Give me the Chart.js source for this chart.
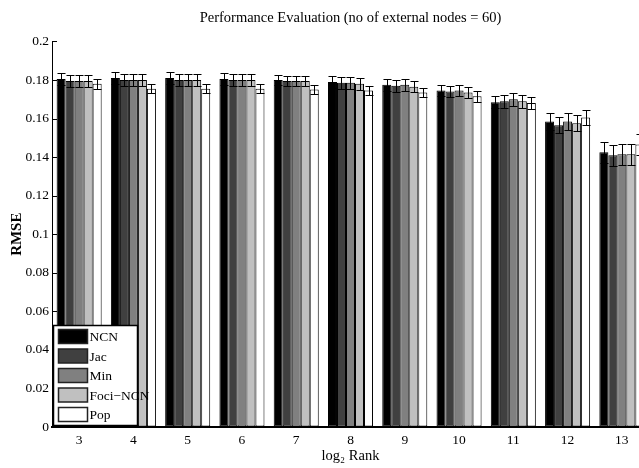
<!DOCTYPE html>
<html>
<head>
<meta charset="utf-8">
<script src="https://cdn.jsdelivr.net/npm/chart.js@4.4.0/dist/chart.umd.min.js"></script>
<style>
html, body { margin: 0; padding: 0; background: #fff; overflow: hidden; }
#wrap { position: relative; width: 652px; height: 468px; }
</style>
</head>
<body>
<div id="wrap"><canvas id="chart"></canvas></div>
<script>
// log2 rank categories
var ranks = ['3', '4', '5', '6', '7', '8', '9', '10', '11', '12', '13'];
var seriesNames = ['NCN', 'Jac', 'Min', 'Foci\u2212NCN', 'Pop'];
var seriesColors = ['#000000', '#404040', '#808080', '#c0c0c0', '#ffffff'];

// RMSE per series
var ncn  = [0.1805, 0.1810, 0.1810, 0.1805, 0.1800, 0.1790, 0.1775, 0.1745, 0.1685, 0.1585, 0.1425];
var jac  = [0.1795, 0.1800, 0.1800, 0.1800, 0.1795, 0.1785, 0.1770, 0.1740, 0.1690, 0.1565, 0.1410];
var min  = [0.1795, 0.1800, 0.1800, 0.1800, 0.1795, 0.1785, 0.1775, 0.1745, 0.1700, 0.1585, 0.1415];
var foci = [0.1795, 0.1800, 0.1800, 0.1800, 0.1795, 0.1780, 0.1765, 0.1735, 0.1690, 0.1575, 0.1415];
var pop  = [0.1780, 0.1755, 0.1755, 0.1755, 0.1750, 0.1745, 0.1735, 0.1715, 0.1680, 0.1605, 0.1465];

// error bar half lengths
var ncnErr  = [0.0030, 0.0030, 0.0030, 0.0030, 0.0028, 0.0030, 0.0030, 0.0030, 0.0033, 0.0042, 0.0055];
var jacErr  = [0.0030, 0.0030, 0.0030, 0.0030, 0.0028, 0.0030, 0.0030, 0.0030, 0.0033, 0.0042, 0.0055];
var minErr  = [0.0030, 0.0030, 0.0030, 0.0030, 0.0028, 0.0030, 0.0030, 0.0030, 0.0033, 0.0042, 0.0055];
var fociErr = [0.0030, 0.0030, 0.0030, 0.0030, 0.0028, 0.0030, 0.0030, 0.0030, 0.0033, 0.0042, 0.0055];
var popErr  = [0.0025, 0.0025, 0.0025, 0.0025, 0.0025, 0.0025, 0.0025, 0.0028, 0.0030, 0.0040, 0.0055];

var yTicks = [0, 0.02, 0.04, 0.06, 0.08, 0.1, 0.12, 0.14, 0.16, 0.18, 0.2];

var values = [ncn, jac, min, foci, pop];
var errors = [ncnErr, jacErr, minErr, fociErr, popErr];

Chart.defaults.font.family = '"Liberation Serif", "Times New Roman", serif';
Chart.defaults.font.size = 13;
Chart.defaults.color = '#000';

var datasets = [];
for (var i = 0; i < seriesNames.length; i++) {
	datasets.push({
		label: seriesNames[i],
		data: values[i],
		errors: errors[i],
		backgroundColor: seriesColors[i],
		borderColor: '#000',
		borderWidth: 1,
		borderSkipped: false,
		categoryPercentage: 0.83,
		barPercentage: 1.0
	});
}

// error bars, inward y ticks and the boxed legend in the lower left
var extras = {
	id: 'extras',
	afterDatasetsDraw: function(chart) {
		var ctx = chart.ctx;
		var y = chart.scales.y;
		var area = chart.chartArea;
		ctx.save();
		ctx.strokeStyle = '#000';
		ctx.lineWidth = 1;

		chart.data.datasets.forEach(function(ds, i) {
			var meta = chart.getDatasetMeta(i);
			meta.data.forEach(function(bar, j) {
				var v = ds.data[j], e = ds.errors[j];
				var top = Math.round(y.getPixelForValue(v + e)) + 0.5;
				var bot = Math.round(y.getPixelForValue(v - e)) + 0.5;
				var cx = Math.round(bar.x) + 0.5;
				var half = bar.width / 2 - 0.5;
				ctx.beginPath();
				ctx.moveTo(cx, top); ctx.lineTo(cx, bot);
				ctx.moveTo(cx - half, top); ctx.lineTo(cx + half, top);
				ctx.moveTo(cx - half, bot); ctx.lineTo(cx + half, bot);
				ctx.stroke();
			});
		});

		// MATLAB style ticks pointing into the axes
		yTicks.forEach(function(t) {
			var py = Math.round(y.getPixelForValue(t)) + 0.5;
			ctx.beginPath();
			ctx.moveTo(area.left, py);
			ctx.lineTo(area.left + 5, py);
			ctx.stroke();
		});

		// legend box
		var bx = area.left + 1.5, by = area.bottom - 101.5, bw = 84, bh = 100;
		ctx.fillStyle = '#fff';
		ctx.fillRect(bx, by, bw, bh);
		ctx.lineWidth = 1.5;
		ctx.strokeRect(bx, by, bw, bh);
		ctx.font = '13.5px "Liberation Serif", "Times New Roman", serif';
		ctx.textBaseline = 'middle';
		ctx.textAlign = 'left';
		chart.data.datasets.forEach(function(ds, i) {
			var cy = by + 11 + i * 19.5;
			ctx.fillStyle = ds.backgroundColor;
			ctx.fillRect(bx + 5, cy - 7, 29, 14);
			ctx.lineWidth = 1.5;
			ctx.strokeStyle = '#222';
			ctx.strokeRect(bx + 5, cy - 7, 29, 14);
			ctx.fillStyle = '#000';
			ctx.fillText(ds.label, bx + 36, cy + 1);
		});
		ctx.restore();
	}
};

new Chart(document.getElementById('chart'), {
	type: 'bar',
	data: { labels: ranks, datasets: datasets },
	plugins: [extras],
	options: {
		responsive: true,
		maintainAspectRatio: false,
		animation: false,
		layout: { padding: { left: 0, right: 3, top: 0, bottom: 0 } },
		plugins: {
			legend: { display: false },
			tooltip: { enabled: false },
			title: {
				display: true,
				fullSize: false,
				text: 'Performance Evaluation (no of external nodes = 60)',
				font: { size: 14.5, weight: 'normal' },
				color: '#000',
				padding: { top: 9, bottom: 15 }
			}
		},
		scales: {
			x: {
				type: 'category',
				offset: true,
				grid: { drawOnChartArea: false, drawTicks: false },
				border: { display: true, color: '#000', width: 2 },
				ticks: { padding: 5, maxRotation: 0, autoSkip: false, font: { size: 13.5 } },
				title: { display: true, text: 'log\u2082 Rank', font: { size: 14.5 }, padding: { top: 0, bottom: 3 } },
				afterFit: function(scale) { scale.height = 41; }
			},
			y: {
				min: 0,
				max: 0.2,
				afterBuildTicks: function(scale) {
					scale.ticks = yTicks.map(function(v) { return { value: v }; });
				},
				grid: { drawOnChartArea: false, drawTicks: false },
				border: { display: true, color: '#000', width: 1 },
				ticks: {
					padding: 3,
					font: { size: 13.5 },
					callback: function(v) { return String(+v.toFixed(2)); }
				},
				title: { display: true, text: 'RMSE', font: { weight: 'bold', size: 15 }, padding: { top: 8, bottom: 0 } },
				afterFit: function(scale) { scale.width = 52; }
			}
		}
	}
});
</script>
</body>
</html>
